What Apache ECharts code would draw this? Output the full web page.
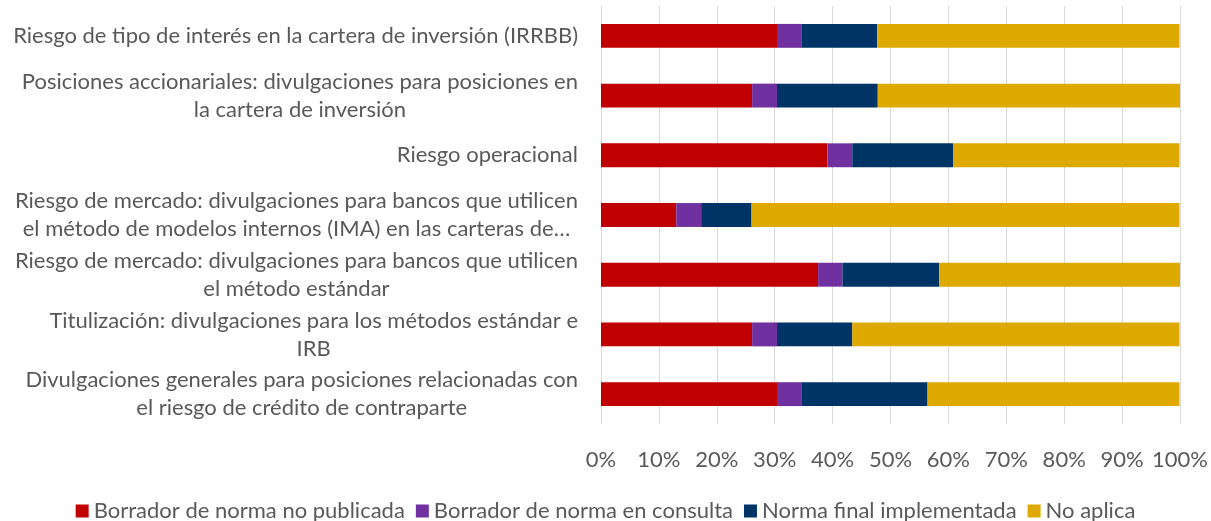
<!DOCTYPE html>
<html>
<head>
<meta charset="utf-8">
<script src="https://cdn.jsdelivr.net/npm/echarts@6/dist/echarts.min.js"></script>
<style>
  html, body { margin: 0; padding: 0; background: #fff; }
  #chart { width: 1211px; height: 521px; }
</style>
</head>
<body>
<div id="chart"></div>
<script>
// categories, top to bottom
const categories = [
  'Riesgo de tipo de interés en la cartera de inversión (IRRBB)',
  'Posiciones accionariales: divulgaciones para posiciones en\nla cartera de inversión',
  'Riesgo operacional',
  'Riesgo de mercado: divulgaciones para bancos que utilicen\nel método de modelos internos (IMA) en las carteras de…',
  'Riesgo de mercado: divulgaciones para bancos que utilicen\nel método estándar',
  'Titulización: divulgaciones para los métodos estándar e\nIRB',
  'Divulgaciones generales para posiciones relacionadas con\nel riesgo de crédito de contraparte'
];
const seriesNames = ['Borrador de norma no publicada', 'Borrador de norma en consulta', 'Norma final implementada', 'No aplica'];
const colors = ['#c00000', '#7030a0', '#003366', '#dea900'];

const noPublicada  = [30.4, 26.1, 39.1, 13.0, 37.5, 26.1, 30.4];
const enConsulta   = [4.3, 4.3, 4.3, 4.3, 4.2, 4.3, 4.3];
const implementada = [13.0, 17.4, 17.4, 8.7, 16.7, 13.0, 21.7];
const noAplica     = [52.2, 52.2, 39.1, 73.9, 41.7, 56.5, 43.5];

const values = [noPublicada, enConsulta, implementada, noAplica];
const FONT = 'Lato';
const TXT = '#595959';

const chart = echarts.init(document.getElementById('chart'), null, { renderer: 'canvas' });
chart.setOption({
  animation: false,
  textStyle: { fontFamily: FONT },
  grid: { left: 601, right: 31, top: 6, bottom: 97, containLabel: false },
  legend: {
    data: seriesNames,
    top: 495, left: 'center',
    icon: 'rect', itemWidth: 13, itemHeight: 13, itemGap: 11,
    textStyle: { color: TXT, fontSize: 22, fontFamily: FONT }
  },
  xAxis: {
    type: 'value', min: 0, max: 100, interval: 10,
    axisLine: { show: false }, axisTick: { show: false },
    splitLine: { lineStyle: { color: '#d9d9d9', width: 1 } },
    axisLabel: { color: TXT, fontSize: 22, margin: 25, fontFamily: FONT, formatter: '{value}%' }
  },
  yAxis: {
    type: 'category', inverse: true, data: categories,
    axisLine: { lineStyle: { color: '#d9d9d9' } }, axisTick: { show: false },
    axisLabel: {
      color: TXT, fontSize: 22, lineHeight: 28, margin: 23, align: 'right', fontFamily: FONT,
      // lines centred inside the right-aligned block
      formatter: (v) => v.split('\n').map((l) => '{c|' + l + '}').join('\n'),
      rich: { c: { align: 'center', color: TXT, fontSize: 22, lineHeight: 28, fontFamily: FONT } }
    }
  },
  series: seriesNames.map((name, i) => ({
    name, type: 'bar', stack: 'total', barWidth: '40%',
    itemStyle: { color: colors[i] },
    data: values[i]
  }))
});
</script>
</body>
</html>
